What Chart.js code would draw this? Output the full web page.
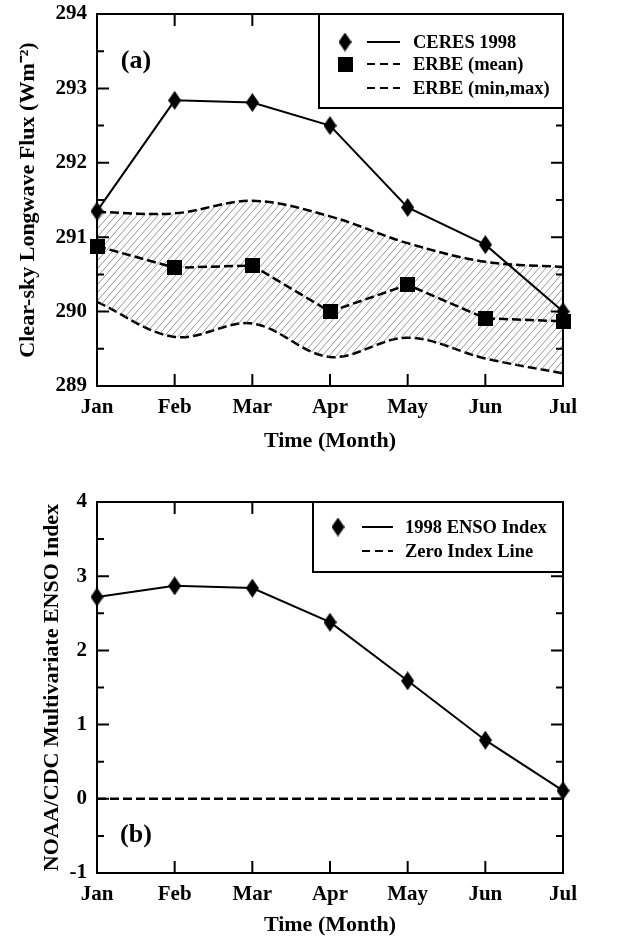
<!DOCTYPE html>
<html><head><meta charset="utf-8">
<script src="https://cdn.jsdelivr.net/npm/chart.js@4.4.0/dist/chart.umd.min.js"></script>
<style>
html,body{margin:0;padding:0;background:#fff;overflow:hidden;}
#c1{position:absolute;left:0;top:-20px;display:block;}
#c2{position:absolute;left:0;top:470px;display:block;}
</style></head>
<body>
<canvas id="c1" width="620" height="490"></canvas>
<canvas id="c2" width="620" height="470"></canvas>
<script>
const months = ['Jan','Feb','Mar','Apr','May','Jun','Jul'];
const ceres1998 = [291.35, 292.84, 292.81, 292.50, 291.40, 290.90, 290.00];
const erbeMean  = [290.88, 290.59, 290.62, 290.00, 290.36, 289.91, 289.87];
const erbeMax   = [291.34, 291.32, 291.49, 291.28, 290.92, 290.67, 290.60];
const erbeMin   = [290.13, 289.66, 289.84, 289.39, 289.65, 289.37, 289.17];
const ensoIndex = [2.72, 2.87, 2.84, 2.38, 1.59, 0.79, 0.11];
const zeroLine  = [0, 0, 0, 0, 0, 0, 0];
const fluxRange = [289, 294];
const ensoRange = [-1, 4];
const legendTop = ['CERES 1998', 'ERBE (mean)', 'ERBE (min,max)'];
const legendBottom = ['1998 ENSO Index', 'Zero Index Line'];

const FONT = "'Liberation Serif','Times New Roman',serif";
const DASH = [9, 4];

function diamondImg(w, h) {
  const c = document.createElement('canvas'); c.width = w; c.height = h;
  const g = c.getContext('2d'); g.fillStyle = '#000';
  g.beginPath(); g.moveTo(w/2, 0); g.lineTo(w, h/2); g.lineTo(w/2, h); g.lineTo(0, h/2); g.closePath(); g.fill();
  return c;
}
function squareImg(s) {
  const c = document.createElement('canvas'); c.width = s; c.height = s;
  const g = c.getContext('2d'); g.fillStyle = '#000'; g.fillRect(0, 0, s, s);
  return c;
}
const DIAMOND = diamondImg(13, 19);
const SQUARE = squareImg(15);

function hatchPattern(ctx) {
  const w = 7, h = 8;
  const c = document.createElement('canvas'); c.width = w; c.height = h;
  const g = c.getContext('2d');
  g.strokeStyle = '#7a7a7a'; g.lineWidth = 0.8;
  g.beginPath();
  g.moveTo(-w, 2*h); g.lineTo(2*w, -h);
  g.stroke();
  return ctx.createPattern(c, 'repeat');
}

const decoPlugin = {
  id: 'deco',
  afterDatasetsDraw(chart, args, o) {
    const {ctx, chartArea: a, scales: {x, y}} = chart;
    ctx.save();
    ctx.strokeStyle = '#000'; ctx.lineWidth = 2; ctx.setLineDash([]);
    ctx.strokeRect(a.left, a.top, a.right - a.left, a.bottom - a.top);
    ctx.beginPath();
    for (let v = y.min; v <= y.max + 1e-9; v += 0.5) {
      const py = y.getPixelForValue(v);
      const L = Math.abs(v - Math.round(v)) < 1e-9 ? 12 : 7;
      ctx.moveTo(a.left, py); ctx.lineTo(a.left + L, py);
      ctx.moveTo(a.right, py); ctx.lineTo(a.right - L, py);
    }
    x.ticks.forEach((t, i) => {
      const px = x.getPixelForTick(i);
      ctx.moveTo(px, a.bottom); ctx.lineTo(px, a.bottom - 12);
      ctx.moveTo(px, a.top); ctx.lineTo(px, a.top + 12);
    });
    ctx.stroke();
    // panel label
    ctx.fillStyle = '#000';
    ctx.font = 'bold 26px ' + FONT;
    ctx.textAlign = 'center'; ctx.textBaseline = 'middle';
    const ly = o.labelFromBottom ? a.bottom - o.labelOffsetY : a.top + o.labelOffsetY;
    ctx.fillText(o.label, a.left + 39, ly);
    // legend box
    const L = o.legend;
    const bx = a.right - L.width, by = a.top;
    ctx.fillStyle = '#fff';
    ctx.fillRect(bx, by, L.width, L.height);
    ctx.strokeRect(bx, by, L.width, L.height);
    L.items.forEach((it, i) => {
      const ry = by + L.rows[i];
      if (it.marker) {
        const img = it.marker;
        ctx.drawImage(img, bx + L.markerX - img.width/2, ry - img.height/2);
      }
      ctx.beginPath();
      ctx.setLineDash(it.dash ? [8, 5] : []);
      ctx.lineWidth = 2;
      ctx.moveTo(bx + L.lineX0, ry); ctx.lineTo(bx + L.lineX1, ry);
      ctx.stroke();
      ctx.setLineDash([]);
      ctx.fillStyle = '#000';
      ctx.font = 'bold 18.5px ' + FONT;
      ctx.textAlign = 'left'; ctx.textBaseline = 'middle';
      ctx.fillText(it.text, bx + L.textX, ry + 1);
    });
    ctx.restore();
  }
};

function tickFont(size) { return {family: FONT, size: size, weight: 'bold'}; }

function makeScales(range, yTitle, yTitlePad, xHeight, xTitlePad) {
  return {
    x: {
      type: 'category', offset: false,
      grid: {display: false, drawTicks: false}, border: {display: false},
      ticks: {padding: 9, color: '#000', font: tickFont(21), maxRotation: 0, autoSkip: false},
      title: {display: true, text: 'Time (Month)', color: '#000', font: tickFont(22), padding: {top: 0, bottom: xTitlePad}},
      afterFit(s) { s.height = xHeight; }
    },
    y: {
      min: range[0], max: range[1],
      grid: {display: false, drawTicks: false}, border: {display: false},
      ticks: {stepSize: 1, padding: 10, color: '#000', font: tickFont(21)},
      title: {display: true, text: yTitle, color: '#000', font: tickFont(22), padding: {top: yTitlePad, bottom: 0}},
      afterFit(s) { s.width = 97; }
    }
  };
}

const ctx1 = document.getElementById('c1').getContext('2d');
new Chart(ctx1, {
  type: 'line',
  data: {
    labels: months,
    datasets: [
      {label: legendTop[0], data: ceres1998, borderColor: '#000', borderWidth: 2, pointStyle: DIAMOND, pointRadius: 9, tension: 0, fill: false, clip: false},
      {label: legendTop[1], data: erbeMean, borderColor: '#000', borderWidth: 2.5, borderDash: DASH, pointStyle: SQUARE, pointRadius: 8, tension: 0, fill: false, clip: false},
      {label: 'ERBE (max)', data: erbeMax, borderColor: '#000', borderWidth: 2.5, borderDash: DASH, pointRadius: 0, tension: 0.35, fill: '+1', backgroundColor: hatchPattern(ctx1)},
      {label: 'ERBE (min)', data: erbeMin, borderColor: '#000', borderWidth: 2.5, borderDash: DASH, pointRadius: 0, tension: 0.35, fill: false}
    ]
  },
  options: {
    responsive: false, animation: false, devicePixelRatio: 1,
    layout: {padding: {left: 0, right: 57, top: 34, bottom: 0}},
    plugins: {
      legend: {display: false}, tooltip: {enabled: false},
      deco: {
        label: '(a)', labelOffsetY: 47, labelFromBottom: false,
        legend: {width: 244, height: 94, rows: [28, 50, 74], markerX: 26, lineX0: 48, lineX1: 81, textX: 94,
          items: [
            {marker: DIAMOND, dash: false, text: legendTop[0]},
            {marker: SQUARE, dash: true, text: legendTop[1]},
            {marker: null, dash: true, text: legendTop[2]}
          ]}
      }
    },
    scales: makeScales(fluxRange, 'Clear-sky Longwave Flux (Wm\u207B\u00B2)', 15, 84, 15)
  },
  plugins: [decoPlugin]
});

const ctx2 = document.getElementById('c2').getContext('2d');
new Chart(ctx2, {
  type: 'line',
  data: {
    labels: months,
    datasets: [
      {label: legendBottom[0], data: ensoIndex, borderColor: '#000', borderWidth: 2, pointStyle: DIAMOND, pointRadius: 9, tension: 0, fill: false, clip: false},
      {label: legendBottom[1], data: zeroLine, borderColor: '#000', borderWidth: 2.5, borderDash: DASH, pointRadius: 0, tension: 0, fill: false}
    ]
  },
  options: {
    responsive: false, animation: false, devicePixelRatio: 1,
    layout: {padding: {left: 0, right: 57, top: 32, bottom: 0}},
    plugins: {
      legend: {display: false}, tooltip: {enabled: false},
      deco: {
        label: '(b)', labelOffsetY: 38, labelFromBottom: true,
        legend: {width: 250, height: 70, rows: [25, 49], markerX: 25, lineX0: 49, lineX1: 80, textX: 92,
          items: [
            {marker: DIAMOND, dash: false, text: legendBottom[0]},
            {marker: null, dash: true, text: legendBottom[1]}
          ]}
      }
    },
    scales: makeScales(ensoRange, 'NOAA/CDC Multivariate ENSO Index', 39, 67, 1)
  },
  plugins: [decoPlugin]
});
</script>
</body></html>
